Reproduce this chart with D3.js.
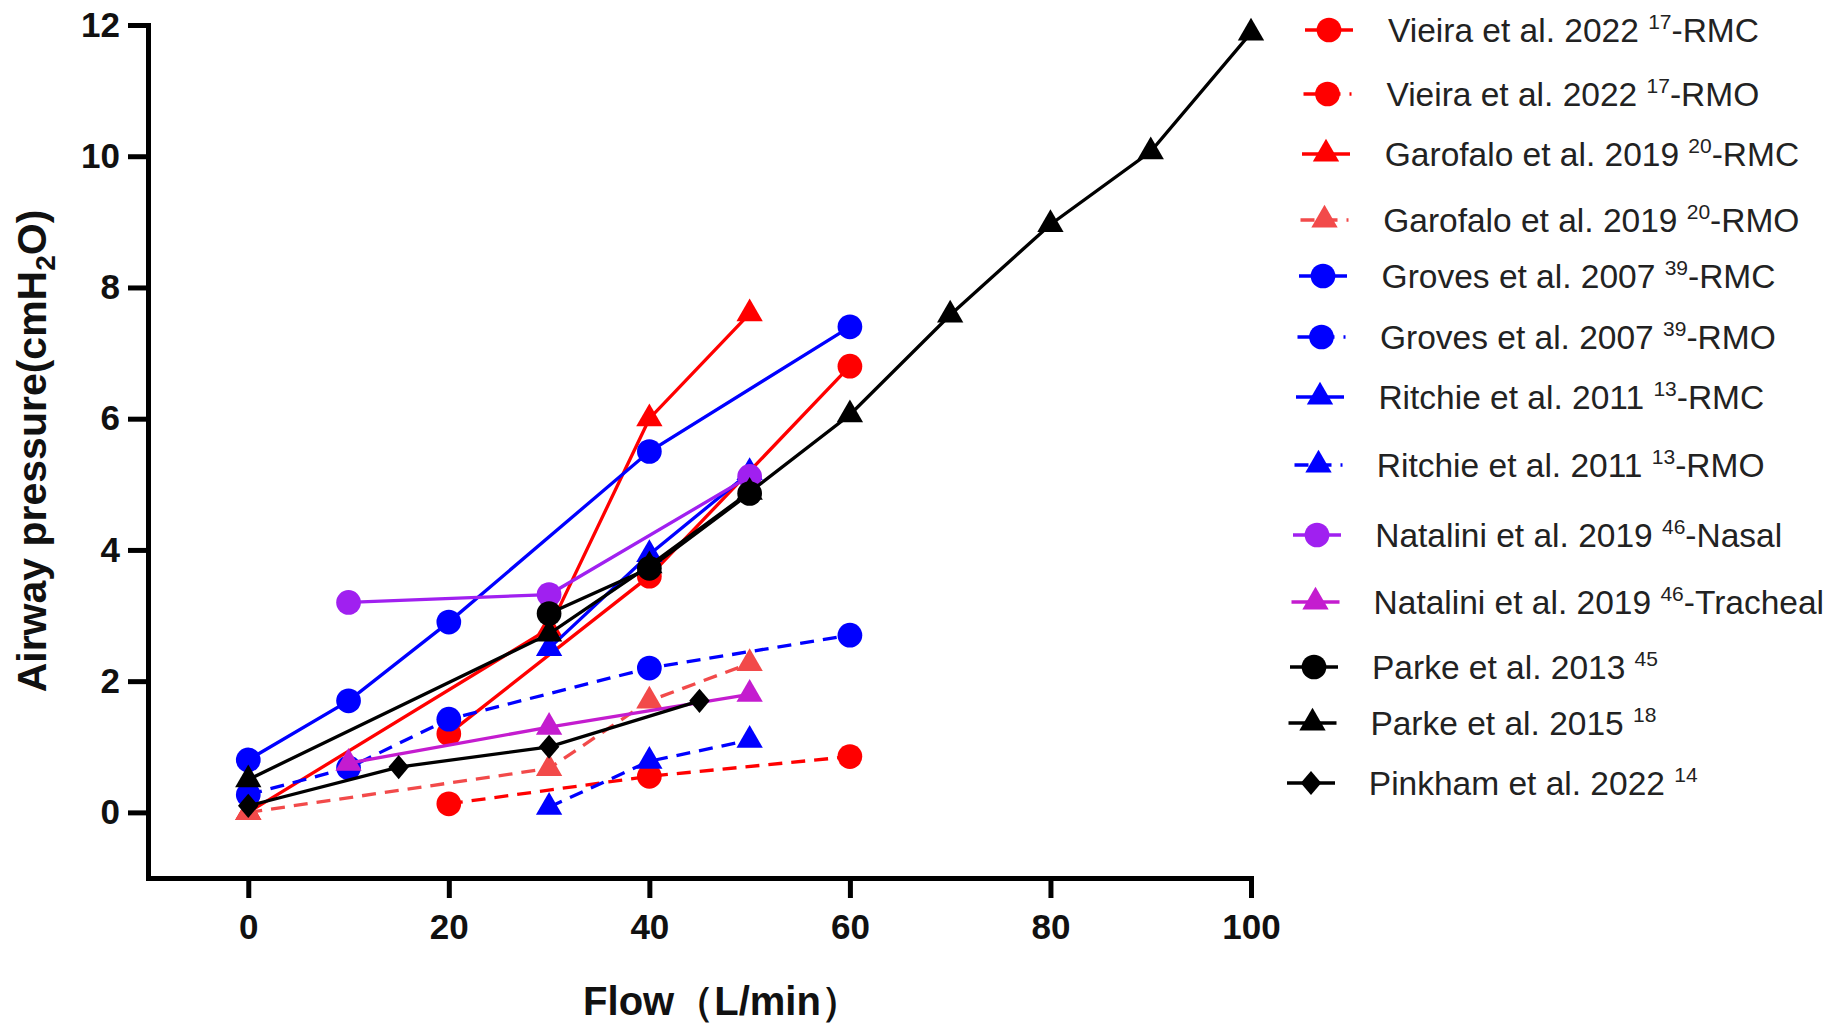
<!DOCTYPE html>
<html><head><meta charset="utf-8">
<script src="https://cdn.jsdelivr.net/npm/d3@7"></script>
<style>body{margin:0;background:#fff} svg{display:block}</style>
</head><body>
<svg id="chart" width="1833" height="1023"></svg>
<script>
// ---------- data ----------
const flowTicks = [0, 20, 40, 60, 80, 100];
const pressureTicks = [0, 2, 4, 6, 8, 10, 12];

const vieiraRMC      = [[20, 1.2], [40, 3.6], [60, 6.8]];
const vieiraRMO      = [[20, 0.13], [40, 0.55], [60, 0.85]];
const garofaloRMC    = [[0, 0], [30, 2.8], [40, 6.0], [50, 7.6]];
const garofaloRMO    = [[0, 0], [30, 0.67], [40, 1.7], [50, 2.27]];
const grovesRMC      = [[0, 0.8], [10, 1.7], [20, 2.9], [40, 5.5], [60, 7.4]];
const grovesRMO      = [[0, 0.27], [10, 0.68], [20, 1.42], [40, 2.2], [60, 2.7]];
const ritchieRMC     = [[30, 2.5], [40, 3.93], [50, 5.18]];
const ritchieRMO     = [[30, 0.08], [40, 0.78], [50, 1.1]];
const nataliniNasal  = [[10, 3.2], [30, 3.32], [50, 5.12]];
const nataliniTrach  = [[10, 0.75], [30, 1.3], [50, 1.8]];
const parke2013      = [[30, 3.03], [40, 3.72], [50, 4.86]];
const parke2015      = [[0, 0.5], [30, 2.72], [40, 3.76], [50, 4.88], [60, 6.06], [70, 7.58], [80, 8.96], [90, 10.07], [100, 11.88]];
const pinkham2022    = [[0, 0.1], [15, 0.69], [30, 1.0], [45, 1.7]];

const seriesData = [vieiraRMC, vieiraRMO, garofaloRMC, garofaloRMO, grovesRMC, grovesRMO,
  ritchieRMC, ritchieRMO, nataliniNasal, nataliniTrach, parke2013, parke2015, pinkham2022];
const seriesNames = ["Vieira et al. 2022 ", "Vieira et al. 2022 ", "Garofalo et al. 2019 ", "Garofalo et al. 2019 ",
  "Groves et al. 2007 ", "Groves et al. 2007 ", "Ritchie et al. 2011 ", "Ritchie et al. 2011 ",
  "Natalini et al. 2019 ", "Natalini et al. 2019 ", "Parke et al. 2013 ", "Parke et al. 2015 ", "Pinkham et al. 2022 "];
const seriesRefs = ["17", "17", "20", "20", "39", "39", "13", "13", "46", "46", "45", "18", "14"];
const seriesSuffix = ["-RMC", "-RMO", "-RMC", "-RMO", "-RMC", "-RMO", "-RMC", "-RMO", "-Nasal", "-Tracheal", "", "", ""];

// ---------- styles ----------
const seriesColors = ["#ff0000", "#ff0000", "#ff0000", "#f24a4a", "#0000ff", "#0000ff", "#0000ff", "#0000ff",
  "#a020f0", "#c41ccf", "#000000", "#000000", "#000000"];
const seriesDashed = [false, true, false, true, false, true, false, true, false, false, false, false, false];
const seriesShape = ["circle", "circle", "triangle", "triangle", "circle", "circle", "triangle", "triangle",
  "circle", "triangle", "circle", "triangle", "diamond"];
const legendY = [30, 94, 154, 220, 276, 337, 397, 465, 535, 602, 667, 723, 783];

// ---------- layout ----------
const svg = d3.select("#chart");
const x = d3.scaleLinear().domain([-10, 100]).range([148, 1251]);
const y = d3.scaleLinear().domain([-1, 12]).range([878, 25]);
const FONT = "'Liberation Sans', Arial, Helvetica, sans-serif";

const diamondType = {
  draw(ctx, size) {
    const h = Math.sqrt(size) * 0.62, w = h * 0.85;
    ctx.moveTo(0, -h); ctx.lineTo(w, 0); ctx.lineTo(0, h); ctx.lineTo(-w, 0); ctx.closePath();
  }
};
function symbolPath(shape) {
  if (shape === "circle") return d3.symbol(d3.symbolCircle, 480)();
  if (shape === "triangle") return d3.symbol(d3.symbolTriangle, 300)();
  return d3.symbol(diamondType, 380)();
}

// axes
const yAxis = svg.append("g").attr("transform", `translate(${x(-10)},0)`)
  .call(d3.axisLeft(y).tickValues(pressureTicks).tickSize(20).tickSizeOuter(0).tickPadding(8));
const xAxis = svg.append("g").attr("transform", `translate(0,${y(-1)})`)
  .call(d3.axisBottom(x).tickValues(flowTicks).tickSize(20).tickSizeOuter(0).tickPadding(16));
[yAxis, xAxis].forEach(a => {
  a.select(".domain").attr("stroke", "#000").attr("stroke-width", 5).attr("stroke-linecap", "square");
  a.selectAll(".tick line").attr("stroke", "#000").attr("stroke-width", 5);
  a.selectAll(".tick text").attr("fill", "#111").style("font-family", FONT)
    .style("font-weight", "bold").style("font-size", "35px");
});

// series
const line = d3.line().x(d => x(d[0])).y(d => y(d[1]));
seriesData.forEach((data, i) => {
  const g = svg.append("g");
  g.append("path").datum(data).attr("d", line).attr("fill", "none")
    .attr("stroke", seriesColors[i]).attr("stroke-width", 3.3)
    .attr("stroke-dasharray", seriesDashed[i] ? "14,9" : null);
  g.selectAll("path.m").data(data).join("path").attr("class", "m")
    .attr("transform", d => `translate(${x(d[0])},${y(d[1])})`)
    .attr("d", symbolPath(seriesShape[i])).attr("fill", seriesColors[i]);
});

// axis titles
const yt = svg.append("text").attr("transform", "translate(46,451) rotate(-90)")
  .attr("text-anchor", "middle").style("font-family", FONT).style("font-weight", "bold")
  .style("font-size", "41px").attr("fill", "#111");
yt.append("tspan").text("Airway pressure(cmH");
yt.append("tspan").text("2").style("font-size", "28px").attr("dy", 9);
yt.append("tspan").text("O)").attr("dy", -9);

svg.append("text").attr("x", 722).attr("y", 1015).attr("text-anchor", "middle")
  .style("font-family", FONT).style("font-weight", "bold").style("font-size", "40px")
  .attr("fill", "#111").text("Flow（L/min）");

// legend
seriesData.forEach((data, i) => {
  const ly = legendY[i];
  const lx = 1305 - 1.5 * i;
  const g = svg.append("g").attr("transform", `translate(0,${ly})`);
  g.append("line").attr("x1", lx).attr("x2", lx + 48).attr("y1", 0).attr("y2", 0)
    .attr("stroke", seriesColors[i]).attr("stroke-width", 3.3)
    .attr("stroke-dasharray", seriesDashed[i] ? "14,9" : null);
  g.append("path").attr("transform", `translate(${lx + 24},0)`)
    .attr("d", symbolPath(seriesShape[i])).attr("fill", seriesColors[i]);
  const t = g.append("text").attr("x", 1388 - 1.6 * i).attr("y", 12)
    .style("font-family", FONT).style("font-size", "33.5px").attr("fill", "#222");
  t.append("tspan").text(seriesNames[i]);
  t.append("tspan").text(seriesRefs[i]).style("font-size", "21px").attr("dy", -13);
  if (seriesSuffix[i]) t.append("tspan").text(seriesSuffix[i]).attr("dy", 13);
});
</script></body></html>
